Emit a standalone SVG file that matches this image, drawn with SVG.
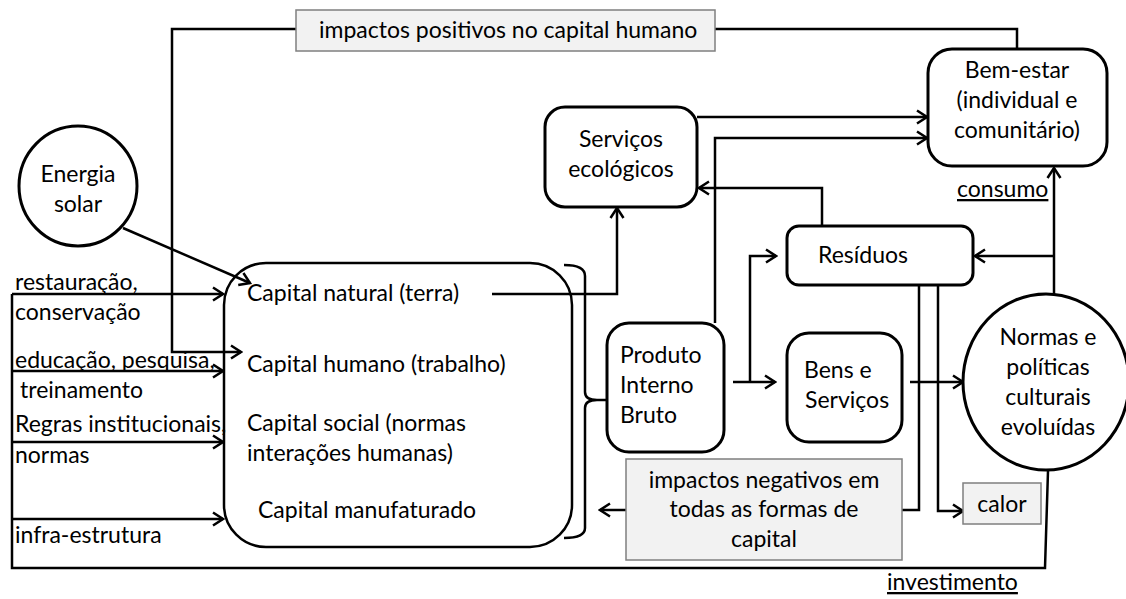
<svg xmlns="http://www.w3.org/2000/svg" width="1126" height="599" viewBox="0 0 1126 599">
<style>
text{font-family:Lato,"Open Sans","Liberation Sans",sans-serif;font-size:23px;fill:#000}
.c{text-anchor:middle}
.node{fill:#fff;stroke:#000;stroke-width:3}
.grey{fill:#f2f2f2;stroke:#7f7f7f;stroke-width:1.5}
.ln{fill:none;stroke:#000;stroke-width:2.5}
.arr{marker-end:url(#a)}
.u{text-decoration:underline}
</style>
<defs>
<marker id="a" markerWidth="14" markerHeight="16" refX="12" refY="8" orient="auto" markerUnits="userSpaceOnUse">
<path d="M2,1.5 L12,8 L2,14.5" fill="none" stroke="#000" stroke-width="2.5"/>
</marker>
</defs>
<rect width="1126" height="599" fill="#fff"/>

<g id="capital">
<rect x="224" y="263" width="348" height="284" rx="42" fill="none" stroke="#000" stroke-width="2.5"/>
<text x="247" y="301">Capital natural (terra)</text>
<text x="247" y="372">Capital humano (trabalho)</text>
<text x="247" y="431">Capital social (normas</text>
<text x="247" y="461">interações humanas)</text>
<text x="258" y="518">Capital manufaturado</text>
</g>

<g id="connectors">
<!-- top feedback: Bem-estar -> capital humano -->
<path class="ln" d="M1017,49 L1017,29 L715,29"/>
<path class="ln arr" d="M296,29 L172,29 L172,352 L241,352"/>
<!-- energia solar -->
<path class="ln arr" d="M123,228 L250,283"/>
<!-- left inputs -->
<path class="ln" d="M12,294 L12,568 L1045,568 L1048,471"/>
<path class="ln arr" d="M12,294 L223,294"/>
<path class="ln arr" d="M12,371 L223,371"/>
<path class="ln arr" d="M12,442 L223,442"/>
<path class="ln arr" d="M12,519 L223,519"/>
<!-- capital natural -> servicos ecologicos -->
<path class="ln arr" d="M492,294 L617,294 L617,208"/>
<!-- brace -->
<path class="ln" d="M564,265 Q585,265 585,276 L585,392 Q585,400 597,400 Q585,400 585,408 L585,528 Q585,538 564,538"/>
<path class="ln" d="M597,400 L607,400"/>
<!-- servicos -> bem-estar -->
<path class="ln arr" d="M697,117 L927,117"/>
<!-- PIB -> bem-estar -->
<path class="ln arr" d="M715,323 L715,138 L927,138"/>
<!-- residuos -> servicos -->
<path class="ln arr" d="M822,226 L822,188 L699,188"/>
<!-- PIB -> bens / residuos -->
<path class="ln arr" d="M733,382 L775,382"/>
<path class="ln arr" d="M750,382 L750,256 L776,256"/>
<!-- bens -> normas -->
<path class="ln arr" d="M910,382 L963,382"/>
<!-- residuos -> impactos negativos / calor -->
<path class="ln" d="M919,285 L919,510 L902,510"/>
<path class="ln arr" d="M938,285 L938,511 L963,511"/>
<!-- impactos negativos -> capital -->
<path class="ln arr" d="M626,510 L600,510"/>
<!-- normas -> bem-estar (consumo), -> residuos -->
<path class="ln arr" d="M1054,295 L1054,168"/>
<path class="ln arr" d="M1054,256 L975,256"/>
</g>

<g id="label-impactos-positivos">
<rect class="grey" x="296" y="10" width="419" height="41"/>
<text x="319" y="38">impactos positivos no capital humano</text>
</g>

<g id="energia-solar">
<ellipse class="node" cx="78" cy="186" rx="59" ry="60"/>
<text class="c" x="78" y="182">Energia</text>
<text class="c" x="78" y="212">solar</text>
</g>

<g id="input-labels">
<text x="15" y="290">restauração,</text>
<text x="15" y="320">conservação</text>
<text x="15" y="368">educação, pesquisa,</text>
<text x="20" y="398">treinamento</text>
<text x="15" y="432">Regras institucionais,</text>
<text x="15" y="463">normas</text>
<text x="15" y="543">infra-estrutura</text>
</g>

<g id="servicos-ecologicos">
<rect class="node" x="545" y="107" width="152" height="100" rx="20"/>
<text class="c" x="621" y="147">Serviços</text>
<text class="c" x="621" y="177">ecológicos</text>
</g>

<g id="bem-estar">
<rect class="node" x="928" y="49" width="179" height="117" rx="24"/>
<text class="c" x="1017" y="78">Bem-estar</text>
<text class="c" x="1017" y="108">(individual e</text>
<text class="c" x="1017" y="138">comunitário)</text>
</g>

<g id="consumo-label">
<text class="u" x="957" y="197">consumo</text>
</g>

<g id="residuos">
<rect class="node" x="787" y="226" width="186" height="59" rx="12"/>
<text x="818" y="263">Resíduos</text>
</g>

<g id="pib">
<rect class="node" x="607" y="323" width="117" height="129" rx="22"/>
<text x="620" y="363">Produto</text>
<text x="620" y="393">Interno</text>
<text x="620" y="423">Bruto</text>
</g>

<g id="bens-servicos">
<rect class="node" x="787" y="333" width="115" height="109" rx="22"/>
<text x="804" y="378">Bens e</text>
<text x="805" y="408">Serviços</text>
</g>

<g id="normas">
<ellipse class="node" cx="1046" cy="382" rx="83" ry="88"/>
<text class="c" x="1048" y="345">Normas e</text>
<text class="c" x="1048" y="375">políticas</text>
<text class="c" x="1048" y="405">culturais</text>
<text class="c" x="1048" y="435">evoluídas</text>
</g>

<g id="impactos-negativos">
<rect class="grey" x="626" y="459" width="276" height="101"/>
<text class="c" x="764" y="488">impactos negativos em</text>
<text class="c" x="764" y="517">todas as formas de</text>
<text class="c" x="764" y="547">capital</text>
</g>

<g id="calor">
<rect class="grey" x="963" y="483" width="78" height="41"/>
<text class="c" x="1002" y="512">calor</text>
</g>

<g id="investimento-label">
<text class="u" x="887" y="590">investimento</text>
</g>
</svg>
